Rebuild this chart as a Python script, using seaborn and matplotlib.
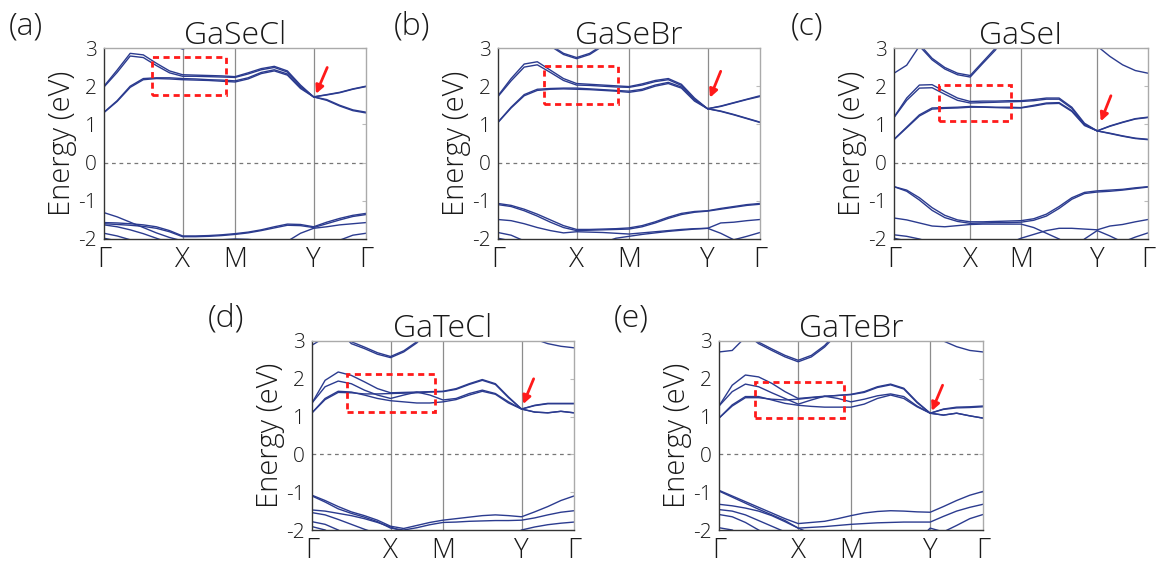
import numpy as np
import pandas as pd
import matplotlib.pyplot as plt
import matplotlib.patches as patches
import seaborn as sns

# k-path sample points (Gamma - X - M - Y - Gamma)
kpts = [0.00, 0.05, 0.10, 0.15, 0.20, 0.25, 0.30, 0.35, 0.40, 0.45, 0.50,
        0.55, 0.60, 0.65, 0.70, 0.75, 0.80, 0.85, 0.90, 0.95, 1.00]
kticks = [0.0, 0.3, 0.5, 0.8, 1.0]
klabels = ['Γ', 'X', 'M', 'Y', 'Γ']

# ---- (a) GaSeCl ----
a_top = [3.6, 3.6, 3.6, 3.6, 3.4, 3.1, 2.97, 3.1, 3.4, 3.6, 3.6, 3.6, 3.6, 3.6, 3.6, 3.6, 3.6, 3.6, 3.6, 3.6, 3.6]
a_c1 = [2.00, 2.42, 2.86, 2.82, 2.60, 2.40, 2.30, 2.29, 2.28, 2.27, 2.25, 2.35, 2.46, 2.52, 2.40, 2.03, 1.72, 1.78, 1.84, 1.93, 2.00]
a_c2 = [1.98, 2.36, 2.79, 2.75, 2.54, 2.35, 2.26, 2.26, 2.25, 2.24, 2.23, 2.32, 2.43, 2.49, 2.37, 2.00, 1.72, 1.77, 1.83, 1.92, 1.99]
a_c3 = [1.32, 1.62, 2.00, 2.20, 2.22, 2.22, 2.20, 2.19, 2.17, 2.16, 2.14, 2.22, 2.36, 2.43, 2.32, 1.97, 1.72, 1.65, 1.50, 1.38, 1.32]
a_c4 = [1.31, 1.60, 1.97, 2.17, 2.20, 2.19, 2.17, 2.16, 2.15, 2.13, 2.11, 2.19, 2.33, 2.40, 2.29, 1.94, 1.72, 1.63, 1.48, 1.36, 1.30]
a_v1 = [-1.31, -1.42, -1.56, -1.70, -1.84, -1.96, -2.05, -2.08, -2.05, -2.02, -2.00, -2.01, -2.04, -2.10, -2.06, -1.85, -1.72, -1.68, -1.63, -1.60, -1.57]
a_v2 = [-1.57, -1.58, -1.60, -1.63, -1.68, -1.78, -1.92, -1.92, -1.91, -1.89, -1.86, -1.82, -1.76, -1.68, -1.61, -1.62, -1.68, -1.56, -1.46, -1.38, -1.33]
a_v3 = [-1.60, -1.62, -1.64, -1.67, -1.72, -1.81, -1.94, -1.94, -1.93, -1.91, -1.88, -1.84, -1.78, -1.71, -1.64, -1.65, -1.70, -1.60, -1.50, -1.41, -1.36]
a_v4 = [-1.63, -1.68, -1.76, -1.86, -1.98, -2.10, -2.25, -2.40, -2.40, -2.40, -2.40, -2.40, -2.40, -2.40, -2.40, -2.40, -2.30, -2.20, -2.03, -1.90, -1.85]
a_v5 = [-1.85, -1.92, -2.02, -2.15, -2.30, -2.40, -2.40, -2.40, -2.40, -2.40, -2.40, -2.40, -2.40, -2.40, -2.40, -2.40, -2.40, -2.40, -2.40, -2.40, -2.40]
a_v6 = [-1.98, -2.05, -2.20, -2.40, -2.40, -2.40, -2.40, -2.40, -2.40, -2.40, -2.40, -2.40, -2.40, -2.40, -2.40, -2.40, -2.40, -2.40, -2.40, -2.40, -2.40]

# ---- (b) GaSeBr ----
b_top1 = [3.6, 3.6, 3.6, 3.35, 3.05, 2.83, 2.72, 2.83, 3.05, 3.35, 3.6, 3.6, 3.6, 3.6, 3.6, 3.6, 3.6, 3.6, 3.6, 3.6, 3.6]
b_top2 = [3.6, 3.6, 3.6, 3.38, 3.08, 2.86, 2.75, 2.86, 3.08, 3.38, 3.6, 3.6, 3.6, 3.6, 3.6, 3.6, 3.6, 3.6, 3.6, 3.6, 3.6]
b_c1 = [1.75, 2.20, 2.58, 2.64, 2.42, 2.20, 2.07, 2.05, 2.03, 2.01, 1.99, 2.06, 2.15, 2.20, 2.05, 1.69, 1.41, 1.48, 1.57, 1.66, 1.75]
b_c2 = [1.73, 2.14, 2.50, 2.56, 2.36, 2.15, 2.03, 2.02, 2.00, 1.98, 1.97, 2.03, 2.12, 2.17, 2.02, 1.66, 1.41, 1.47, 1.56, 1.65, 1.73]
b_c3 = [1.06, 1.45, 1.78, 1.92, 1.94, 1.95, 1.95, 1.93, 1.91, 1.89, 1.87, 1.92, 2.03, 2.10, 1.98, 1.64, 1.41, 1.35, 1.26, 1.16, 1.06]
b_c4 = [1.05, 1.43, 1.75, 1.89, 1.92, 1.93, 1.92, 1.91, 1.89, 1.87, 1.84, 1.89, 2.00, 2.07, 1.95, 1.61, 1.41, 1.34, 1.25, 1.15, 1.05]
b_v1 = [-1.07, -1.12, -1.22, -1.35, -1.50, -1.65, -1.75, -1.75, -1.74, -1.73, -1.71, -1.65, -1.55, -1.43, -1.33, -1.28, -1.26, -1.20, -1.15, -1.10, -1.07]
b_v2 = [-1.10, -1.15, -1.26, -1.40, -1.56, -1.70, -1.78, -1.77, -1.76, -1.75, -1.74, -1.68, -1.58, -1.46, -1.36, -1.30, -1.27, -1.22, -1.17, -1.12, -1.09]
b_v3 = [-1.49, -1.52, -1.60, -1.70, -1.78, -1.84, -1.81, -1.82, -1.83, -1.85, -1.87, -1.84, -1.81, -1.78, -1.75, -1.73, -1.72, -1.85, -2.02, -1.93, -1.83]
b_v4 = [-1.83, -1.90, -2.05, -2.20, -2.40, -2.40, -2.40, -2.40, -2.10, -1.98, -1.93, -1.88, -1.84, -1.80, -1.77, -1.74, -1.72, -1.58, -1.56, -1.52, -1.49]
b_v5 = [-1.98, -2.05, -2.20, -2.40, -2.40, -2.40, -2.40, -2.40, -2.40, -2.40, -2.40, -2.40, -2.40, -2.40, -2.40, -2.40, -2.40, -2.40, -2.40, -2.40, -2.40]

# ---- (c) GaSeI ----
c_top1 = [3.6, 3.6, 3.05, 2.69, 2.45, 2.30, 2.24, 2.60, 2.95, 3.6, 3.6, 3.6, 3.6, 3.6, 3.6, 3.6, 3.6, 3.6, 3.6, 3.6, 3.6]
c_top2 = [3.6, 3.6, 3.10, 2.73, 2.49, 2.34, 2.28, 2.64, 3.00, 3.6, 3.6, 3.6, 3.6, 3.6, 3.6, 3.6, 3.6, 3.6, 3.6, 3.6, 3.6]
c_top3 = [2.34, 2.55, 3.05, 3.6, 3.6, 3.6, 3.6, 3.6, 3.6, 3.6, 3.6, 3.6, 3.6, 3.6, 3.6, 3.6, 3.05, 2.78, 2.56, 2.41, 2.34]
c_c1 = [1.19, 1.69, 2.03, 2.04, 1.86, 1.69, 1.60, 1.61, 1.61, 1.62, 1.62, 1.65, 1.69, 1.69, 1.45, 1.03, 0.83, 0.96, 1.06, 1.15, 1.19]
c_c2 = [1.18, 1.63, 1.95, 1.96, 1.79, 1.63, 1.56, 1.57, 1.58, 1.59, 1.60, 1.62, 1.66, 1.66, 1.42, 1.00, 0.83, 0.95, 1.05, 1.14, 1.18]
c_c3 = [0.61, 0.93, 1.25, 1.43, 1.44, 1.45, 1.47, 1.46, 1.45, 1.45, 1.44, 1.50, 1.56, 1.57, 1.36, 0.99, 0.83, 0.77, 0.70, 0.64, 0.61]
c_c4 = [0.60, 0.91, 1.22, 1.40, 1.42, 1.43, 1.45, 1.45, 1.44, 1.43, 1.43, 1.48, 1.54, 1.55, 1.34, 0.97, 0.83, 0.76, 0.69, 0.63, 0.60]
c_v1 = [-0.63, -0.72, -0.92, -1.18, -1.38, -1.50, -1.55, -1.55, -1.54, -1.53, -1.52, -1.47, -1.35, -1.15, -0.92, -0.78, -0.74, -0.72, -0.70, -0.66, -0.63]
c_v2 = [-0.63, -0.75, -0.98, -1.25, -1.44, -1.54, -1.59, -1.58, -1.57, -1.57, -1.56, -1.51, -1.40, -1.20, -0.96, -0.81, -0.77, -0.75, -0.72, -0.68, -0.64]
c_v3 = [-1.45, -1.50, -1.58, -1.66, -1.68, -1.65, -1.62, -1.61, -1.61, -1.61, -1.61, -1.70, -1.85, -2.00, -2.20, -2.40, -2.40, -2.40, -2.40, -2.40, -2.40]
c_v4 = [-1.89, -1.93, -2.00, -2.10, -2.25, -2.40, -2.40, -2.40, -2.40, -2.12, -1.98, -1.88, -1.78, -1.72, -1.72, -1.74, -1.76, -1.66, -1.62, -1.55, -1.49]
c_v5 = [-1.98, -2.05, -2.20, -2.40, -2.40, -2.40, -2.40, -2.40, -2.40, -2.40, -2.40, -2.40, -2.40, -2.40, -2.30, -2.00, -1.78, -1.92, -2.08, -1.95, -1.84]

# ---- (d) GaTeCl ----
d_top1 = [2.89, 3.10, 3.6, 3.6, 3.6, 3.6, 3.6, 3.6, 3.6, 3.6, 3.6, 3.6, 3.6, 3.6, 3.6, 3.6, 3.6, 3.6, 3.6, 3.6, 3.6]
d_top2 = [3.6, 3.6, 3.30, 2.93, 2.80, 2.65, 2.56, 2.71, 2.95, 3.30, 3.6, 3.6, 3.6, 3.6, 3.6, 3.6, 3.6, 3.6, 3.6, 3.6, 3.6]
d_top3 = [3.6, 3.6, 3.35, 2.98, 2.84, 2.69, 2.59, 2.74, 2.98, 3.35, 3.6, 3.6, 3.6, 3.6, 3.6, 3.6, 3.6, 3.6, 3.6, 3.6, 3.6]
d_top4 = [3.6, 3.6, 3.6, 3.6, 3.6, 3.6, 3.6, 3.6, 3.6, 3.6, 3.6, 3.6, 3.6, 3.6, 3.6, 3.6, 3.6, 3.05, 2.93, 2.86, 2.82]
d_c1 = [1.36, 1.96, 2.18, 2.09, 1.92, 1.74, 1.63, 1.64, 1.65, 1.66, 1.67, 1.74, 1.87, 1.98, 1.87, 1.52, 1.20, 1.30, 1.35, 1.35, 1.35]
d_c2 = [1.36, 1.79, 1.94, 1.87, 1.70, 1.57, 1.48, 1.57, 1.65, 1.57, 1.44, 1.48, 1.61, 1.70, 1.61, 1.39, 1.20, 1.12, 1.10, 1.14, 1.10]
d_c3 = [1.10, 1.48, 1.67, 1.65, 1.57, 1.48, 1.42, 1.39, 1.36, 1.36, 1.39, 1.45, 1.57, 1.67, 1.59, 1.36, 1.20, 1.12, 1.10, 1.14, 1.10]
d_c4 = [1.10, 1.45, 1.64, 1.63, 1.60, 1.60, 1.61, 1.62, 1.63, 1.65, 1.66, 1.72, 1.85, 1.96, 1.85, 1.50, 1.20, 1.29, 1.34, 1.34, 1.34]
d_v1 = [-1.08, -1.22, -1.38, -1.52, -1.62, -1.74, -1.90, -1.96, -1.88, -1.80, -1.74, -1.70, -1.66, -1.62, -1.60, -1.62, -1.65, -1.52, -1.38, -1.22, -1.10]
d_v2 = [-1.10, -1.26, -1.44, -1.56, -1.66, -1.78, -1.95, -2.00, -1.94, -1.86, -1.80, -1.79, -1.77, -1.76, -1.75, -1.75, -1.74, -1.68, -1.60, -1.53, -1.49]
d_v3 = [-1.47, -1.50, -1.56, -1.62, -1.70, -1.80, -1.92, -2.05, -2.20, -2.40, -2.40, -2.40, -2.40, -2.40, -2.40, -2.20, -2.00, -1.92, -1.86, -1.82, -1.79]
d_v4 = [-1.54, -1.60, -1.72, -1.85, -1.98, -2.10, -2.30, -2.40, -2.40, -2.40, -2.40, -2.40, -2.40, -2.40, -2.40, -2.40, -2.40, -2.40, -2.40, -2.40, -2.40]
d_v5 = [-1.78, -1.85, -2.00, -2.20, -2.40, -2.40, -2.40, -2.40, -2.40, -2.40, -2.40, -2.40, -2.40, -2.40, -2.40, -2.40, -2.40, -2.40, -2.40, -2.40, -2.40]
d_v6 = [-1.91, -2.00, -2.20, -2.40, -2.40, -2.40, -2.40, -2.40, -2.40, -2.40, -2.40, -2.40, -2.40, -2.40, -2.40, -2.40, -2.40, -2.40, -2.40, -2.40, -2.40]

# ---- (e) GaTeBr ----
e_top1 = [2.71, 2.75, 3.10, 3.6, 3.6, 3.6, 3.6, 3.6, 3.6, 3.6, 3.6, 3.6, 3.6, 3.6, 3.6, 3.6, 3.6, 3.6, 3.6, 3.6, 3.6]
e_top2 = [3.6, 3.6, 3.20, 2.93, 2.75, 2.58, 2.45, 2.58, 2.84, 3.20, 3.6, 3.6, 3.6, 3.6, 3.6, 3.6, 3.6, 3.6, 3.6, 3.6, 3.6]
e_top3 = [3.6, 3.6, 3.25, 2.97, 2.79, 2.62, 2.49, 2.62, 2.88, 3.25, 3.6, 3.6, 3.6, 3.6, 3.6, 3.6, 3.6, 3.6, 3.6, 3.6, 3.6]
e_top4 = [3.6, 3.6, 3.6, 3.6, 3.6, 3.6, 3.6, 3.6, 3.6, 3.6, 3.6, 3.6, 3.6, 3.6, 3.6, 3.6, 3.6, 3.00, 2.85, 2.75, 2.71]
e_c1 = [1.28, 1.83, 2.10, 2.05, 1.88, 1.66, 1.48, 1.51, 1.54, 1.56, 1.59, 1.66, 1.79, 1.86, 1.75, 1.39, 1.09, 1.20, 1.25, 1.26, 1.28]
e_c2 = [1.28, 1.66, 1.86, 1.79, 1.63, 1.48, 1.33, 1.44, 1.54, 1.48, 1.39, 1.46, 1.55, 1.60, 1.53, 1.28, 1.09, 1.04, 1.09, 1.02, 0.96]
e_c3 = [0.96, 1.31, 1.53, 1.53, 1.44, 1.35, 1.30, 1.27, 1.25, 1.25, 1.25, 1.33, 1.48, 1.57, 1.48, 1.26, 1.09, 1.04, 1.09, 1.02, 0.96]
e_c4 = [0.96, 1.28, 1.50, 1.50, 1.46, 1.44, 1.46, 1.50, 1.53, 1.56, 1.58, 1.64, 1.77, 1.84, 1.73, 1.37, 1.09, 1.19, 1.23, 1.24, 1.26]
e_v1 = [-0.95, -1.10, -1.25, -1.40, -1.55, -1.70, -1.83, -1.80, -1.77, -1.70, -1.62, -1.55, -1.51, -1.49, -1.50, -1.52, -1.53, -1.38, -1.22, -1.08, -0.98]
e_v2 = [-0.97, -1.13, -1.29, -1.45, -1.60, -1.75, -1.95, -1.93, -1.91, -1.88, -1.85, -1.83, -1.81, -1.80, -1.79, -1.79, -1.79, -1.64, -1.50, -1.40, -1.32]
e_v3 = [-1.32, -1.36, -1.42, -1.50, -1.62, -1.78, -1.95, -2.10, -2.30, -2.40, -2.40, -2.40, -2.40, -2.40, -2.40, -2.30, -1.95, -2.05, -1.88, -1.70, -1.59]
e_v4 = [-1.46, -1.50, -1.60, -1.75, -1.90, -2.05, -2.20, -2.40, -2.40, -2.40, -2.40, -2.40, -2.40, -2.40, -2.40, -2.40, -2.40, -2.40, -2.40, -2.40, -2.40]
e_v5 = [-1.59, -1.65, -1.80, -2.00, -2.20, -2.40, -2.40, -2.40, -2.40, -2.40, -2.40, -2.40, -2.40, -2.40, -2.40, -2.40, -2.40, -2.40, -2.40, -2.40, -2.40]
e_v6 = [-1.94, -2.00, -2.20, -2.40, -2.40, -2.40, -2.40, -2.40, -2.40, -2.40, -2.40, -2.40, -2.40, -2.40, -2.40, -2.40, -2.40, -2.40, -2.40, -2.40, -2.40]

names = ['GaSeCl', 'GaSeBr', 'GaSeI', 'GaTeCl', 'GaTeBr']
tags = ['(a)', '(b)', '(c)', '(d)', '(e)']
bands = [
    [a_top, a_c1, a_c2, a_c3, a_c4, a_v1, a_v2, a_v3, a_v4, a_v5, a_v6],
    [b_top1, b_top2, b_c1, b_c2, b_c3, b_c4, b_v1, b_v2, b_v3, b_v4, b_v5],
    [c_top1, c_top2, c_top3, c_c1, c_c2, c_c3, c_c4, c_v1, c_v2, c_v3, c_v4, c_v5],
    [d_top1, d_top2, d_top3, d_top4, d_c1, d_c2, d_c3, d_c4, d_v1, d_v2, d_v3, d_v4, d_v5, d_v6],
    [e_top1, e_top2, e_top3, e_top4, e_c1, e_c2, e_c3, e_c4, e_v1, e_v2, e_v3, e_v4, e_v5, e_v6],
]
# dashed boxes (k0, k1, E0, E1) and arrows (tail k, tail E, head k, head E)
boxes = [(0.182, 0.466, 1.78, 2.76), (0.176, 0.458, 1.54, 2.52), (0.178, 0.462, 1.08, 2.04),
         (0.134, 0.471, 1.125, 2.12), (0.138, 0.473, 0.96, 1.92)]
arrows = [(0.852, 2.49, 0.809, 1.80), (0.850, 2.39, 0.809, 1.70), (0.854, 1.75, 0.814, 1.08),
          (0.846, 2.00, 0.806, 1.33), (0.847, 1.83, 0.806, 1.15)]

# axes extents in pixels: left, right, top, bottom
frames = [(104, 366, 48, 239), (498, 760, 48, 239), (894, 1148, 48, 239),
          (312, 574, 341, 530), (719, 983, 341, 530)]
tag_pos = [(26, 26), (412, 26), (807, 26), (226, 318), (631, 318)]

sns.set_style('white')
plt.rcParams['font.family'] = ['Open Sans', 'DejaVu Sans']
plt.rcParams['font.weight'] = 'light'
plt.rcParams['axes.titleweight'] = 'light'
plt.rcParams['axes.labelweight'] = 'light'

W, H = 1158, 561
fig = plt.figure(figsize=(W / 100, H / 100), dpi=100)
band_color = '#2b3b8f'
txt_color = '#1a1a1a'

for i in range(5):
    l, r, t, b = frames[i]
    ax = fig.add_axes([l / W, 1 - b / H, (r - l) / W, (b - t) / H])
    rows = []
    for j, e in enumerate(bands[i]):
        rows.append(pd.DataFrame({'k': kpts, 'E': e, 'band': j}))
    df = pd.concat(rows)
    for x in kticks[1:-1]:
        ax.axvline(x, color='#8c8c8c', lw=0.9, zorder=0)
    ax.axhline(0, color='#777777', lw=0.9, ls=(0, (3, 3)), zorder=0)
    sns.lineplot(data=df, x='k', y='E', units='band', estimator=None, sort=False,
                 color=band_color, lw=1.0, legend=False, ax=ax)
    ax.set_xlim(0, 1)
    ax.set_ylim(-2, 3)
    ax.set_xticks(kticks)
    ax.set_xticklabels(klabels, fontsize=20, color=txt_color)
    ax.set_yticks([-2, -1, 0, 1, 2, 3])
    ax.set_yticklabels(['-2', '-1', '0', '1', '2', '3'], fontsize=15, color=txt_color)
    ax.tick_params(axis='x', length=0, pad=5)
    ax.tick_params(axis='y', direction='in', length=3, color='#bbbbbb', right=True, pad=5)
    ax.set_xlabel('')
    ax.set_ylabel('Energy (eV)', fontsize=21, labelpad=1, color=txt_color)
    ax.set_title(names[i], fontsize=23, pad=3, color=txt_color)
    for s in ['left', 'bottom']:
        ax.spines[s].set_color('#333333')
    for s in ['top', 'right']:
        ax.spines[s].set_color('#aaaaaa')
    for s in ax.spines.values():
        s.set_linewidth(1.0)

    k0, k1, e0, e1 = boxes[i]
    ax.add_patch(patches.Rectangle((k0, e0), k1 - k0, e1 - e0, fill=False,
                                   ec='#ff1a1a', lw=2, ls=(0, (2.2, 1.6)), zorder=5))
    tk, te, hk, he = arrows[i]
    ax.annotate('', xy=(hk, he), xytext=(tk, te),
                arrowprops=dict(arrowstyle='-|>', color='#ff1a1a', lw=2,
                                mutation_scale=12, shrinkA=0, shrinkB=0), zorder=6)

    fig.text(tag_pos[i][0] / W, 1 - tag_pos[i][1] / H, tags[i], fontsize=23,
             ha='center', va='center', color=txt_color)

fig.savefig('out.png', dpi=100)
